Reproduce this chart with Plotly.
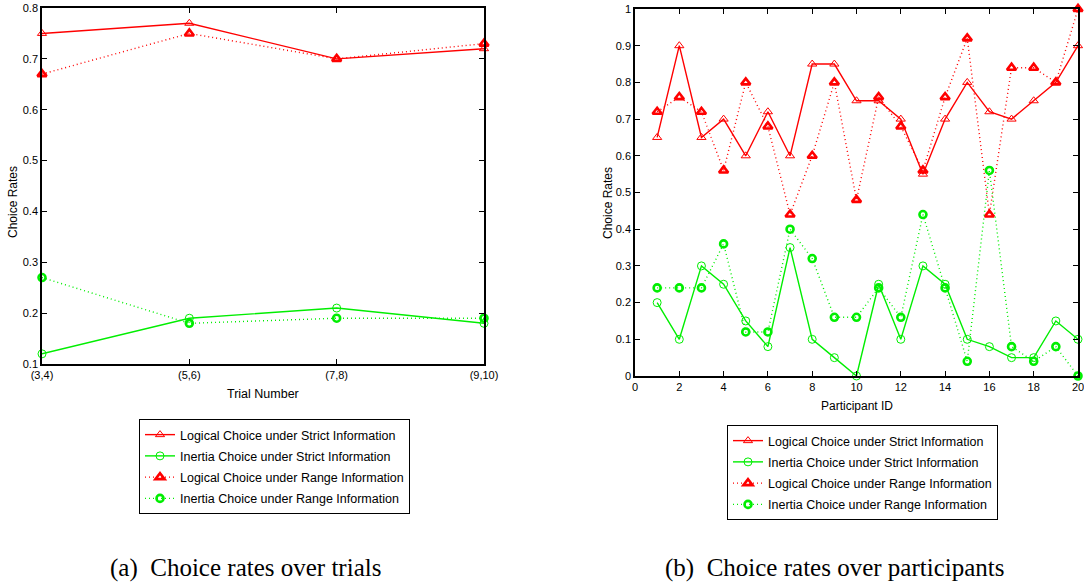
import plotly.graph_objects as go

W, H = 1084, 584

# ---------------- data ----------------
trials = ["(3,4)", "(5,6)", "(7,8)", "(9,10)"]
trial_logical_strict = [0.75, 0.77, 0.70, 0.72]
trial_inertia_strict = [0.12, 0.19, 0.21, 0.18]
trial_logical_range = [0.67, 0.75, 0.70, 0.73]
trial_inertia_range = [0.27, 0.18, 0.19, 0.19]

participants = list(range(1, 21))
part_logical_strict = [0.65, 0.90, 0.65, 0.70, 0.60, 0.72, 0.60, 0.85, 0.85, 0.75,
                       0.75, 0.70, 0.55, 0.70, 0.80, 0.72, 0.70, 0.75, 0.80, 0.90]
part_inertia_strict = [0.20, 0.10, 0.30, 0.25, 0.15, 0.08, 0.35, 0.10, 0.05, 0.00,
                       0.25, 0.10, 0.30, 0.25, 0.10, 0.08, 0.05, 0.05, 0.15, 0.10]
part_logical_range = [0.72, 0.76, 0.72, 0.56, 0.80, 0.68, 0.44, 0.60, 0.80, 0.48,
                      0.76, 0.68, 0.56, 0.76, 0.92, 0.44, 0.84, 0.84, 0.80, 1.00]
part_inertia_range = [0.24, 0.24, 0.24, 0.36, 0.12, 0.12, 0.40, 0.32, 0.16, 0.16,
                      0.24, 0.16, 0.44, 0.24, 0.04, 0.56, 0.08, 0.04, 0.08, 0.00]

series_names = ["Logical Choice under Strict Information",
                "Inertia Choice under Strict Information",
                "Logical Choice under Range Information",
                "Inertia Choice under Range Information"]

captions = ["(a)\u2002Choice rates over trials", "(b)\u2002Choice rates over participants"]

RED = "#ff0000"
GREEN = "#00ee00"
SANS = "Liberation Sans, Arial, sans-serif"
SERIF = "Liberation Serif, Times New Roman, serif"

styles = [
    dict(color=RED, dash="solid", symbol="triangle-up-open", msize=8, mlw=1),
    dict(color=GREEN, dash="solid", symbol="circle-open", msize=8, mlw=1),
    dict(color=RED, dash="1px,3px", symbol="triangle-up-open", msize=8, mlw=2.6),
    dict(color=GREEN, dash="1px,3px", symbol="circle-open", msize=7, mlw=2.6),
]

fig = go.Figure()

left_sets = [trial_logical_strict, trial_inertia_strict, trial_logical_range, trial_inertia_range]
right_sets = [part_logical_strict, part_inertia_strict, part_logical_range, part_inertia_range]

for i, (name, st, ys) in enumerate(zip(series_names, styles, left_sets)):
    fig.add_trace(go.Scatter(
        x=trials, y=ys, name=name, mode="lines+markers", cliponaxis=False,
        legendgroup=f"a{i}",
        line=dict(color=st["color"], dash=st["dash"], width=1.4),
        marker=dict(symbol=st["symbol"], size=st["msize"], color=st["color"],
                    line=dict(color=st["color"], width=st["mlw"])),
        xaxis="x", yaxis="y", legend="legend"))

for i, (name, st, ys) in enumerate(zip(series_names, styles, right_sets)):
    fig.add_trace(go.Scatter(
        x=participants, y=ys, name=name, mode="lines+markers", cliponaxis=False,
        legendgroup=f"b{i}",
        line=dict(color=st["color"], dash=st["dash"], width=1.4),
        marker=dict(symbol=st["symbol"], size=st["msize"], color=st["color"],
                    line=dict(color=st["color"], width=st["mlw"])),
        xaxis="x2", yaxis="y2", legend="legend2"))

axis_common = dict(showline=True, linecolor="black", linewidth=1.5, mirror="ticks",
                   ticks="inside", ticklen=5, tickcolor="black", tickwidth=1,
                   showgrid=False, zeroline=False, automargin=False,
                   ticklabeloverflow="allow",
                   tickfont=dict(family=SANS, size=11, color="black"))

legend_common = dict(xanchor="left", yanchor="top", bgcolor="white",
                     bordercolor="black", borderwidth=1,
                     font=dict(family=SANS, size=12.5, color="black"),
                     tracegroupgap=2, itemwidth=30)

fig.update_layout(
    width=W, height=H,
    margin=dict(l=0, r=0, t=0, b=0, pad=0, autoexpand=False),
    paper_bgcolor="white", plot_bgcolor="white",
    font=dict(family=SANS, color="black"),
    xaxis=dict(domain=[42 / W, 484 / W], type="category", range=[0, 3],
               anchor="y", **axis_common),
    yaxis=dict(domain=[1 - 364 / H, 1 - 8 / H], range=[0.1, 0.8], dtick=0.1,
               anchor="x", **axis_common),
    xaxis2=dict(domain=[635 / W, 1078 / W], range=[0, 20], dtick=2,
                anchor="y2", **axis_common),
    yaxis2=dict(domain=[1 - 376 / H, 1 - 9 / H], range=[0, 1], dtick=0.1,
                anchor="x2", **axis_common),
    legend=dict(x=139 / W, y=1 - 419 / H, **legend_common),
    legend2=dict(x=727 / W, y=1 - 425 / H, **legend_common),
    showlegend=True,
)

ann = [
    dict(text="Trial Number", x=263 / W, y=1 - 394 / H, size=12.5),
    dict(text="Participant ID", x=857 / W, y=1 - 406 / H, size=12),
]
for a in ann:
    fig.add_annotation(xref="paper", yref="paper", showarrow=False,
                       xanchor="center", yanchor="middle", text=a["text"],
                       x=a["x"], y=a["y"],
                       font=dict(family=SANS, size=a["size"], color="black"))
for xpix, ypix in ((13, 202), (608, 203)):
    fig.add_annotation(text="Choice Rates", xref="paper", yref="paper",
                       x=xpix / W, y=1 - ypix / H,
                       textangle=-90, showarrow=False, xanchor="center", yanchor="middle",
                       font=dict(family=SANS, size=12, color="black"))
for cap, cx in zip(captions, (245, 834)):
    fig.add_annotation(text=cap, xref="paper", yref="paper", x=cx / W, y=1 - 568 / H,
                       showarrow=False, xanchor="center", yanchor="middle",
                       font=dict(family=SERIF, size=25, color="black"))

fig.write_html("out.html",
               config={"displayModeBar": False},
               post_script="document.body.style.margin='0';document.body.style.overflow='hidden';")
